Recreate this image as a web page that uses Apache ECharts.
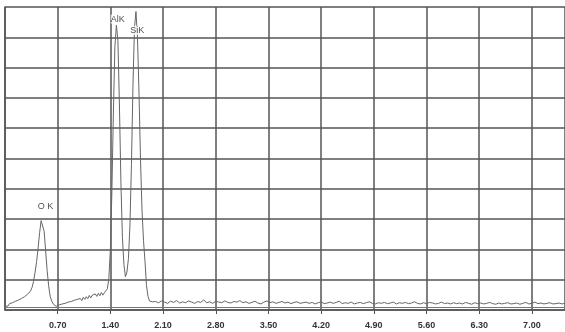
<!DOCTYPE html>
<html>
<head>
<meta charset="utf-8">
<script src="https://cdn.jsdelivr.net/npm/echarts@6/dist/echarts.min.js"></script>
<style>
html,body{margin:0;padding:0;background:#fff;}
#chart{width:565px;height:332px;}
</style>
</head>
<body>
<div id="chart"></div>
<script>
// Energy axis (keV) tick labels
var xTickLabels = ['0.70','1.40','2.10','2.80','3.50','4.20','4.90','5.60','6.30','7.00'];
// Low-energy segment: 0.00 .. 1.98 keV, step 0.02
var lowStart = 0.0, lowStep = 0.02;
var countsLow = [
  0.12,0.17,0.13,0.21,0.19,0.24,0.2,0.29,0.25,0.33,
  0.3,0.38,0.33,0.44,0.4,0.52,0.48,0.63,0.75,0.95,
  1.25,1.6,2.05,2.55,2.95,3.0,2.6,1.95,1.3,0.8,
  0.45,0.3,0.2,0.16,0.12,0.14,0.17,0.13,0.2,0.16,
  0.22,0.18,0.26,0.21,0.28,0.24,0.32,0.26,0.35,0.3,
  0.38,0.31,0.42,0.35,0.44,0.37,0.48,0.4,0.49,0.43,
  0.53,0.45,0.55,0.47,0.58,0.49,0.57,0.62,0.7,1.05,
  2.0,3.9,6.5,8.7,9.4,8.9,6.8,4.2,2.4,1.5,
  1.1,1.25,1.7,2.8,4.8,7.4,9.3,9.85,9.0,7.2,
  5.0,3.3,2.3,1.6,0.8,0.45,0.3,0.25,0.27,0.24
];
// High-energy segment: 2.00 .. 7.44 keV, step 0.04
var highStart = 2.0, highStep = 0.04;
var countsHigh = [
  0.28,0.24,0.3,0.26,0.22,0.29,0.25,0.31,0.23,0.27,0.24,0.3,0.26,0.22,0.28,0.25,0.33,0.24,0.27,0.22,0.29,0.26,0.24,0.3,0.25,
  0.23,0.28,0.26,0.31,0.24,0.27,0.22,0.25,0.29,0.23,0.2,0.26,0.3,0.24,0.27,0.22,0.25,0.28,0.23,0.26,0.21,0.25,0.27,0.22,0.24,
  0.26,0.22,0.25,0.2,0.24,0.27,0.21,0.23,0.26,0.22,0.25,0.29,0.21,0.24,0.22,0.26,0.2,0.23,0.25,0.21,0.24,0.27,0.22,0.2,0.24,
  0.22,0.25,0.21,0.23,0.26,0.2,0.24,0.22,0.25,0.21,0.23,0.27,0.22,0.2,0.24,0.21,0.25,0.23,0.2,0.22,0.26,0.21,0.23,0.2,0.24,
  0.21,0.23,0.2,0.25,0.22,0.19,0.24,0.21,0.23,0.2,0.22,0.25,0.21,0.19,0.23,0.2,0.22,0.24,0.2,0.21,0.23,0.19,0.22,0.25,0.2,
  0.22,0.26,0.21,0.23,0.2,0.22,0.24,0.2,0.21,0.23,0.2,0.22
];
// Peak labels
var peakNames = ['O K','AlK','SiK'];
var peakLabelE = [0.538, 1.498, 1.757];
var peakLabelY = [3.42, 9.6, 9.23];

var spectrum = [];
countsLow.forEach(function(v,i){ spectrum.push([+(lowStart + i*lowStep).toFixed(2), v]); });
countsHigh.forEach(function(v,i){ spectrum.push([+(highStart + i*highStep).toFixed(2), v]); });
var labelData = peakNames.map(function(n,i){ return {name:n, value:[peakLabelE[i], peakLabelY[i]]}; });

var chart = echarts.init(document.getElementById('chart'), null, {renderer:'canvas'});
chart.setOption({
  animation:false,
  backgroundColor:'#fff',
  grid:{left:5, right:0, top:7, bottom:22},
  xAxis:{
    type:'value', min:0, max:7.44, interval:0.7,
    axisLine:{show:true, lineStyle:{color:'#555', width:1.5}},
    axisTick:{show:true, length:4, lineStyle:{color:'#555'}},
    axisLabel:{
      showMinLabel:false, showMaxLabel:false, margin:11,
      fontFamily:'Liberation Sans, Arial, sans-serif', fontSize:9, fontWeight:'bold', color:'#333',
      formatter:function(v){ var s=v.toFixed(2); return xTickLabels.indexOf(s)>=0 ? s : ''; }
    },
    splitLine:{show:true, lineStyle:{color:'#555', width:1.5}}
  },
  yAxis:{
    type:'value', min:0, max:10, interval:1,
    axisLine:{show:true, lineStyle:{color:'#555', width:1.5}},
    axisTick:{show:false},
    axisLabel:{show:false},
    splitLine:{show:true, lineStyle:{color:'#555', width:1.5}}
  },
  series:[
    {
      type:'line', data:spectrum, showSymbol:false, symbol:'none',
      lineStyle:{color:'#666', width:1}, z:3,
      markLine:{silent:true, symbol:'none', label:{show:false},
        lineStyle:{color:'#777', width:1, type:'solid'},
        data:[{yAxis:0.1}]}
    },
    {
      type:'scatter', data:labelData, symbolSize:0, z:5,
      label:{show:true, position:'inside', formatter:'{b}',
        fontFamily:'Liberation Sans, Arial, sans-serif', fontSize:9, color:'#222',
        backgroundColor:'#fff', padding:[0,0]}
    }
  ]
});
</script>
</body>
</html>
